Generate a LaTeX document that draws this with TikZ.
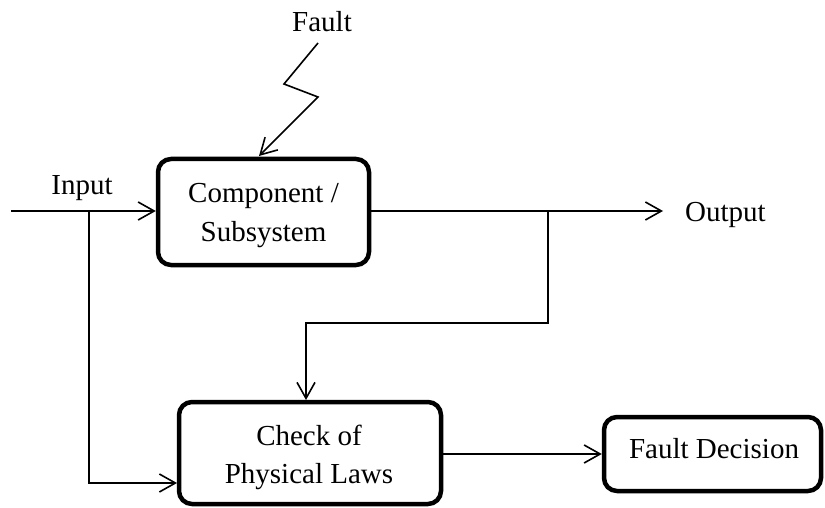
\documentclass[tikz,border=0pt]{standalone}
\usepackage{fontspec}
\setmainfont{Liberation Serif}
\usetikzlibrary{arrows.meta}
\begin{document}
\begin{tikzpicture}[x=1pt,y=-1pt,
  blk/.style={draw, line width=4.5pt, rounded corners=13pt, inner sep=0pt},
  txt/.style={anchor=base, inner sep=0pt, font=\fontsize{29}{35}\selectfont},
  conn/.style={line width=1.6pt},
  arr/.style={conn, -{Straight Barb[length=16pt,width=18pt,line width=1.6pt]}}]
\useasboundingbox (0,0) rectangle (825,508);
% boxes
\node[blk, minimum width=211pt, minimum height=106pt] (comp) at (263.5,212) {};
\node[blk, minimum width=262pt, minimum height=102pt] (chk) at (310,453) {};
\node[blk, minimum width=217pt, minimum height=74pt] (fd) at (712.5,454) {};
% texts
\node[txt] (c1) at (263.5,202) {Component /};
\node[txt] (c2) at (263.5,241) {Subsystem};
\node[txt] (k1) at (309,445) {Check of};
\node[txt] (k2) at (309,483) {Physical Laws};
\node[txt] (f1) at (714,458) {Fault Decision};
\node[txt] (inl) at (82,195) {Input};
\node[txt] (fl) at (322,32) {Fault};
\node[txt, anchor=base west] (outl) at (685,221) {Output};
% coordinates
\coordinate (inS) at (11,211);
\coordinate (j1) at (89,211);
\coordinate (chkIn) at (177,483);
\coordinate (outE) at (663,211);
\coordinate (j2) at (548,211);
\coordinate (fb1) at (548,323);
\coordinate (fb2) at (306,323);
\coordinate (fb3) at (306,400);
\coordinate (z0) at (318,43);
\coordinate (z1) at (284,84);
\coordinate (z2) at (318,97);
\coordinate (z3) at (259,156);
% connectors
\draw[arr] (inS) -- (comp.west |- inS);
\draw[arr] (j1) |- (chkIn);
\draw[arr] (comp.east |- outE) -- (outE);
\draw[arr] (j2) -- (fb1) -- (fb2) -- (fb3);
\draw[arr] (chk.east |- fd.west) -- (fd.west);
\draw[arr] (z0) -- (z1) -- (z2) -- (z3);
\end{tikzpicture}
\end{document}
